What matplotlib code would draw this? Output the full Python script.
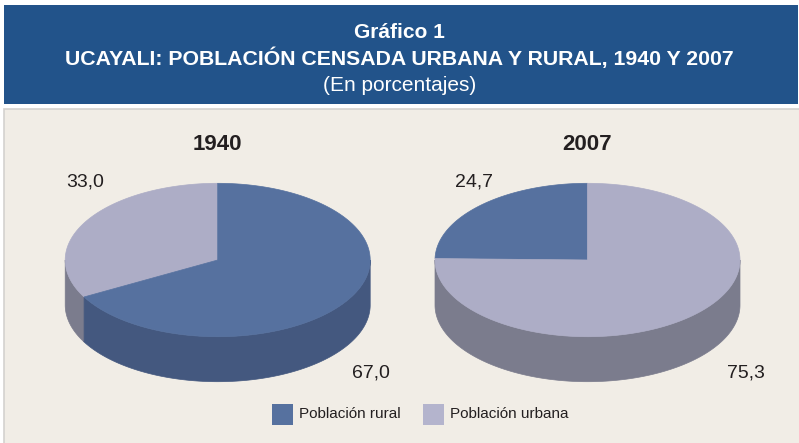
import numpy as np
import matplotlib

matplotlib.use("Agg")
import matplotlib.pyplot as plt
from matplotlib.patches import Polygon, Rectangle

YEARS = ["1940", "2007"]
LABELS = ["Población rural", "Población urbana"]
RURAL = [67.0, 24.7]
URBAN = [33.0, 75.3]

RURAL_TOP = "#56719f"
RURAL_SIDE = "#44587f"
URBAN_TOP = "#adadc6"
URBAN_SIDE = "#7b7c8d"
HEADER = "#22538a"
PANEL = "#f1ede6"
TEXT = "#231f20"

W, H = 799, 443
fig = plt.figure(figsize=(W / 100, H / 100), dpi=100, facecolor="white")
ax = fig.add_axes([0, 0, 1, 1])
ax.set_xlim(0, W)
ax.set_ylim(H, 0)
ax.axis("off")

SANS = ["Liberation Sans", "DejaVu Sans"]

# header band and panel
ax.add_patch(Rectangle((4, 5), 794, 99, color=HEADER, lw=0))
ax.add_patch(Rectangle((4, 108.5), 800, 340, facecolor=PANEL, edgecolor="#d4d2cf", lw=1.2))

ax.text(W / 2, 32, "Gráfico 1", ha="center", va="center", color="white",
        fontsize=15, fontweight="bold", family=SANS)
ax.text(W / 2, 58, "UCAYALI: POBLACIÓN CENSADA URBANA Y RURAL, 1940 Y 2007",
        ha="center", va="center", color="white", fontsize=15.3, fontweight="bold", family=SANS)
ax.text(W / 2, 85, "(En porcentajes)", ha="center", va="center", color="white",
        fontsize=15, family=SANS)


def arc(cx, cy, rx, ry, t0, t1, dy=0.0, n=200):
    t = np.radians(np.linspace(t0, t1, n))
    return np.column_stack([cx + rx * np.cos(t), cy - ry * np.sin(t) + dy])


def pie3d(cx, cy, rx, ry, depth, values, tops, sides):
    total = sum(values)
    start = 90.0
    spans = []
    for v in values:
        ext = 360.0 * v / total
        spans.append((start, start + ext))
        start += ext
    # sides (front half: 180..360 deg)
    for (a0, a1), sc in zip(spans, sides):
        for lo, hi in [(180, 360), (540, 720)]:
            s0, s1 = max(a0, lo), min(a1, hi)
            if s1 > s0:
                top = arc(cx, cy, rx, ry, s0, s1)
                bot = arc(cx, cy, rx, ry, s1, s0, dy=depth)
                ax.add_patch(Polygon(np.vstack([top, bot]), closed=True,
                                     facecolor=sc, edgecolor=sc, lw=0.5, zorder=2))
    # top faces
    for (a0, a1), tc in zip(spans, tops):
        pts = np.vstack([[cx, cy], arc(cx, cy, rx, ry, a0, a1)])
        ax.add_patch(Polygon(pts, closed=True, facecolor=tc, edgecolor=tc,
                             lw=0.5, zorder=3))
    return spans


centers = [217.7, 587.5]
small_dx = [-133, -114]
big_dx = [153, 158.5]
for i, cx in enumerate(centers):
    if URBAN[i] < RURAL[i]:
        vals, tops, sides = [URBAN[i], RURAL[i]], [URBAN_TOP, RURAL_TOP], [URBAN_SIDE, RURAL_SIDE]
    else:
        vals, tops, sides = [RURAL[i], URBAN[i]], [RURAL_TOP, URBAN_TOP], [RURAL_SIDE, URBAN_SIDE]
    pie3d(cx, 260, 152.5, 76.7, 45, vals, tops, sides)
    ax.text(cx, 145, YEARS[i], ha="center", va="center", fontsize=16,
            fontweight="bold", color=TEXT, family=SANS)
    small = f"{vals[0]:.1f}".replace(".", ",")
    big = f"{vals[1]:.1f}".replace(".", ",")
    ax.text(cx + small_dx[i], 182, small, ha="center", va="center", fontsize=14,
            color=TEXT, family=SANS)
    ax.text(cx + big_dx[i], 373, big, ha="center", va="center", fontsize=14,
            color=TEXT, family=SANS)

# legend
for x0, lab, col in [(272, LABELS[0], RURAL_TOP), (423, LABELS[1], "#b4b4cd")]:
    ax.add_patch(Rectangle((x0, 404), 21, 21, color=col, lw=0))
    ax.text(x0 + 27, 414.5, lab, ha="left", va="center", fontsize=11,
            color=TEXT, family=SANS)

fig.savefig("out.png", dpi=100, facecolor="white")
